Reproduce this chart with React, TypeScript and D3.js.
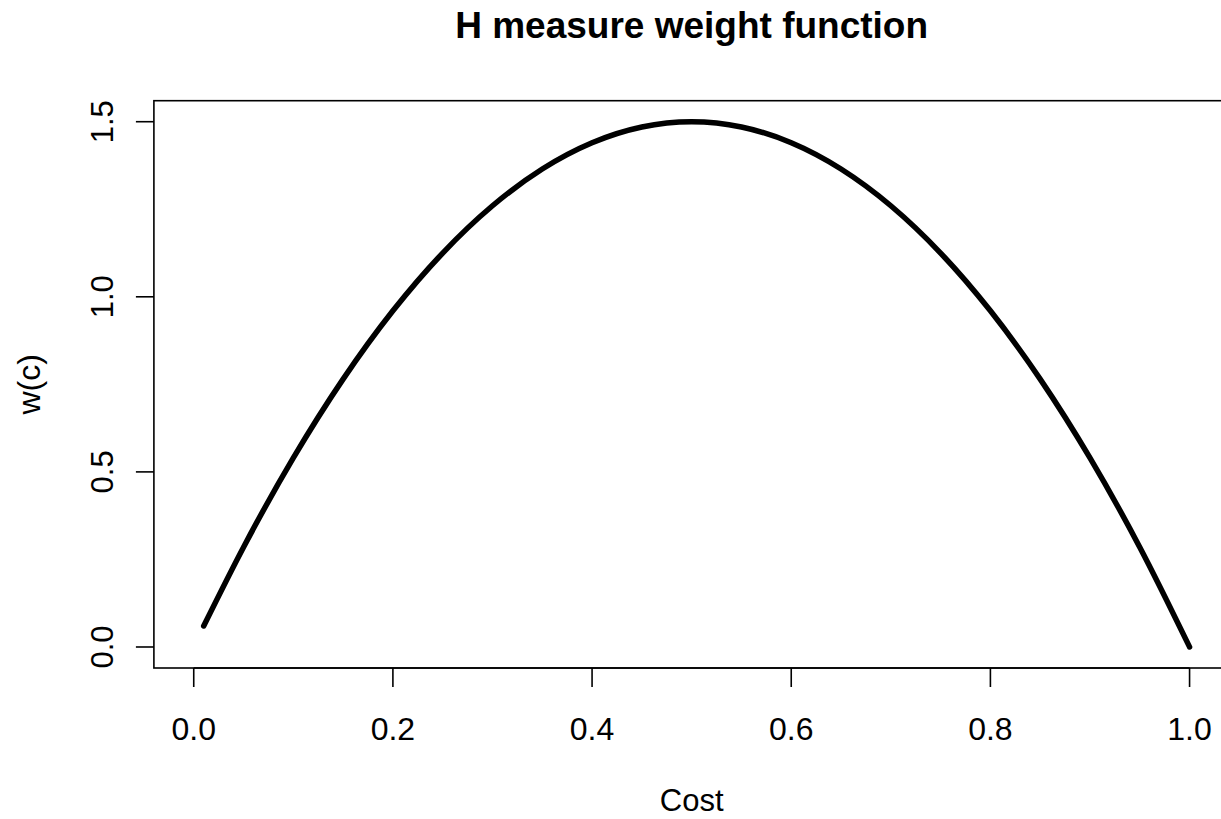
import React from "react";
import * as d3 from "d3";

// values
const costs = [0.01, 0.05, 0.1, 0.15, 0.2, 0.25, 0.3, 0.35, 0.4, 0.45, 0.5, 0.55, 0.6, 0.65, 0.7, 0.75, 0.8, 0.85, 0.9, 0.95, 1.0];
const weights = [0.06, 0.285, 0.54, 0.765, 0.96, 1.125, 1.26, 1.365, 1.44, 1.485, 1.5, 1.485, 1.44, 1.365, 1.26, 1.125, 0.96, 0.765, 0.54, 0.285, 0.0];
const xTicks = [0, 0.2, 0.4, 0.6, 0.8, 1.0];
const yTicks = [0, 0.5, 1.0, 1.5];

const W = 1221;
const H = 819;
const FONT = "'Liberation Sans', Arial, Helvetica, sans-serif";

export default function App() {
  // R style: 4% padding around data range
  const x = d3.scaleLinear().domain([-0.04, 1.04]).range([153.9, 1229.4]);
  const y = d3.scaleLinear().domain([-0.06, 1.56]).range([668, 100.7]);

  const pts = costs.map((c, i) => [c, weights[i]] as [number, number]);
  const line = d3
    .line<[number, number]>()
    .x((d) => x(d[0]))
    .y((d) => y(d[1]))
    .curve(d3.curveMonotoneX);

  const left = x(-0.04);
  const right = x(1.04);
  const top = y(1.56);
  const bottom = y(-0.06);

  return (
    <svg width={W} height={H} style={{ position: "absolute", left: 0, top: 0, background: "#fff" }}>
      <rect x={0} y={0} width={W} height={H} fill="#fff" />
      <text x={(left + right) / 2} y={38} textAnchor="middle" fontFamily={FONT} fontWeight="bold" fontSize={37} fill="#000">
        H measure weight function
      </text>

      {/* plot box */}
      <rect x={left} y={top} width={right - left} height={bottom - top} fill="none" stroke="#000" strokeWidth={1.6} />

      {/* x axis */}
      <line x1={x(0)} x2={x(1)} y1={bottom} y2={bottom} stroke="#000" strokeWidth={1.6} />
      {xTicks.map((t) => (
        <g key={"x" + t}>
          <line x1={x(t)} x2={x(t)} y1={bottom} y2={bottom + 19} stroke="#000" strokeWidth={1.6} />
          <text x={x(t)} y={740} textAnchor="middle" fontFamily={FONT} fontSize={32} fill="#000">
            {t.toFixed(1)}
          </text>
        </g>
      ))}
      <text x={(left + right) / 2} y={811} textAnchor="middle" fontFamily={FONT} fontSize={31} fill="#000">
        Cost
      </text>

      {/* y axis */}
      {yTicks.map((t) => (
        <g key={"y" + t}>
          <line x1={left - 18} x2={left} y1={y(t)} y2={y(t)} stroke="#000" strokeWidth={1.6} />
          <text
            transform={`translate(113,${y(t)}) rotate(-90)`}
            textAnchor="middle"
            fontFamily={FONT}
            fontSize={31}
            fill="#000"
          >
            {t.toFixed(1)}
          </text>
        </g>
      ))}
      <text
        transform={`translate(40,${(top + bottom) / 2}) rotate(-90)`}
        textAnchor="middle"
        fontFamily={FONT}
        fontSize={32}
        fill="#000"
      >
        w(c)
      </text>

      <path d={line(pts) ?? ""} fill="none" stroke="#000" strokeWidth={5.5} strokeLinejoin="round" strokeLinecap="round" />
    </svg>
  );
}
